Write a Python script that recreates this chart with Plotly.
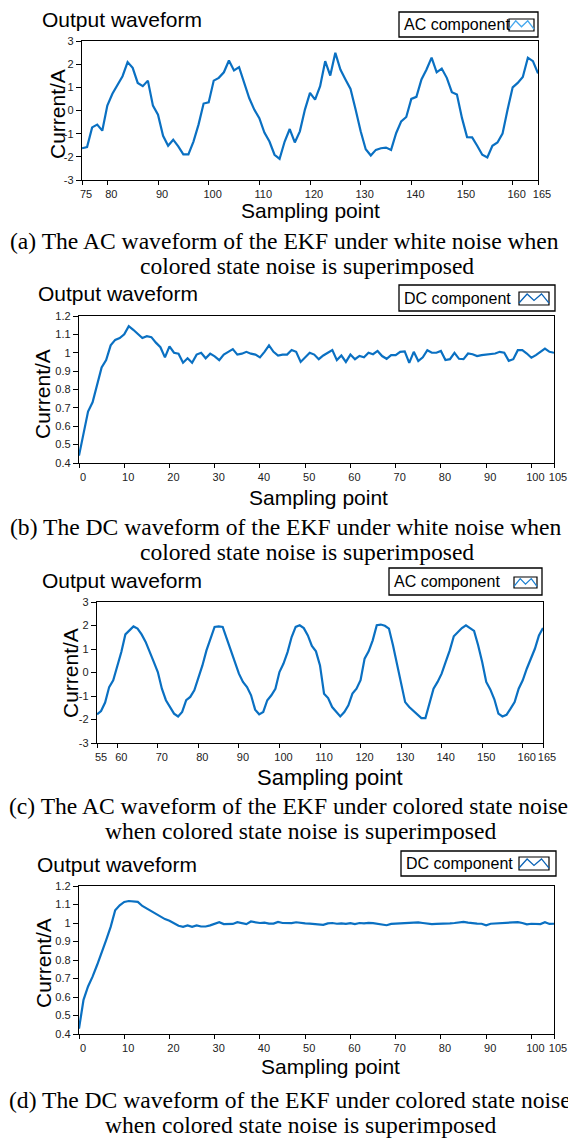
import plotly.graph_objects as go

# sampling points
x_ac_white = list(range(75, 166))
x_dc_white = list(range(0, 106))
x_ac_color = list(range(55, 166))
x_dc_color = list(range(0, 106))

# (a) AC component, white noise
ac_white = [
    -1.63, -1.58, -0.73, -0.61, -0.87, 0.21, 0.72, 1.08, 1.48, 2.09,
    1.84, 1.19, 1.05, 1.29, 0.21, -0.18, -1.09, -1.52, -1.26, -1.55,
    -1.89, -1.89, -1.34, -0.61, 0.30, 0.35, 1.29, 1.41, 1.65, 2.16,
    1.73, 1.87, 1.19, 0.54, 0.04, -0.33, -0.95, -1.34, -1.91, -2.09,
    -1.34, -0.80, -1.38, -0.90,
    0.04, 0.76, 0.47, 1.05, 2.13, 1.51, 2.49, 1.77, 1.34, 0.93,
    0.04, -0.90, -1.67, -1.94, -1.70, -1.63, -1.60, -1.70, -0.98, -0.47,
    -0.28, 0.50, 0.59, 1.34, 1.77, 2.28, 1.65, 1.81, 1.41, 0.79,
    0.69, -0.33, -1.15, -1.16, -1.52, -1.91, -2.03, -1.52, -1.38, -1.00,
    0.04, 1.00, 1.19, 1.45, 2.28, 2.13, 1.60,
]

# (b) DC component, white noise
dc_white = [
    0.44, 0.57, 0.68, 0.73, 0.82, 0.92, 0.96, 1.04, 1.07, 1.08,
    1.10, 1.145, 1.125, 1.10, 1.08, 1.09, 1.085, 1.055, 1.03, 0.975,
    1.035, 1.0, 0.995, 0.946, 0.97, 0.946, 0.99, 1.0, 0.97, 0.995,
    0.98, 0.96, 0.99, 1.005, 1.02, 0.99, 0.995, 1.005, 0.995, 0.99,
    0.975, 1.005, 1.04, 1.005, 0.985, 0.99, 0.99, 1.015, 1.005, 0.95,
    0.978, 1.0, 0.99, 0.965, 0.985, 1.0, 1.015, 0.96, 0.985, 0.95,
    0.99, 0.965, 0.983, 0.975, 1.0, 0.992, 1.01, 0.982, 0.967, 0.987,
    0.987, 1.005, 1.007, 0.945, 1.005, 0.955, 0.975, 1.014, 1.0, 1.0,
    1.01, 0.96, 0.965, 1.0, 0.967, 0.965, 0.996, 0.992, 0.982, 0.987,
    0.99, 0.992, 0.996, 1.005, 1.0, 0.956, 0.965, 1.014, 1.014, 0.996,
    0.973, 0.987, 1.005, 1.023, 1.005, 1.0,
]

# (c) AC component, colored state noise
ac_color = [
    -1.78, -1.64, -1.28, -0.62, -0.33, 0.23, 0.87, 1.62, 1.79, 1.96,
    1.87, 1.62, 1.30, 0.90, 0.45, 0.02, -0.69, -1.18, -1.47, -1.75,
    -1.87, -1.68, -1.18, -1.04, -0.76, -0.26, 0.30, 0.94, 1.41, 1.94,
    1.96, 1.94, 1.44, 0.94, 0.38, -0.05, -0.40, -0.62, -0.97, -1.58,
    -1.78, -1.68, -1.18, -0.97, -0.69, 0.02, 0.38, 0.87, 1.51, 1.94,
    2.01, 1.89, 1.58, 1.13, 0.90, 0.30, -0.90, -1.09, -1.47, -1.68,
    -1.87, -1.68, -1.40, -0.90, -0.69, -0.33, 0.59, 0.90, 1.37, 2.01,
    2.04, 1.99, 1.87, 1.16, 0.30, -0.55, -1.26, -1.47, -1.64, -1.80,
    -1.94, -1.94, -1.26, -0.69, -0.40, -0.05, 0.45, 0.94, 1.54, 1.72,
    1.89, 2.01, 1.87, 1.77, 1.16, 0.45, -0.40, -0.72, -1.14, -1.75,
    -1.87, -1.80, -1.54, -1.26, -0.69, -0.33, 0.16, 0.59, 1.01, 1.58,
    1.89,
]

# (d) DC component, colored state noise
dc_color = [
    0.429, 0.585, 0.657, 0.710, 0.773, 0.836, 0.908, 0.979, 1.069, 1.096,
    1.114, 1.119, 1.117, 1.114, 1.092, 1.078, 1.060, 1.046, 1.033, 1.021,
    1.012, 0.997, 0.985, 0.979, 0.987, 0.979, 0.987, 0.981, 0.981, 0.987,
    0.994, 1.004, 0.994, 0.994, 0.995, 1.004, 0.999, 0.994, 1.008, 1.004,
    1.0, 1.002, 0.997, 0.997, 1.006, 1.0, 0.999, 0.999, 1.004, 1.0,
    0.998, 0.997, 0.996, 0.994, 0.99, 0.998, 1.0, 0.996, 0.998, 0.995,
    0.999, 0.994, 1.0, 0.998, 1.001, 0.999, 0.995, 0.99, 0.988, 0.995,
    0.997, 0.998, 0.997, 1.0, 1.001, 1.003, 1.0, 0.995, 0.994, 0.995,
    0.995, 0.996, 0.998, 1.0, 1.003, 1.006, 1.002, 0.998, 0.997, 0.996,
    0.988, 0.996, 0.997, 1.0, 1.002, 1.003, 1.004, 1.005, 1.0, 0.993,
    0.996, 0.997, 0.994, 1.004, 0.995, 0.996,
]

ac_xticks_white = [75, 80, 90, 100, 110, 120, 130, 140, 150, 160, 165]
ac_xticks_color = [55, 60, 70, 80, 90, 100, 110, 120, 130, 140, 150, 160, 165]
dc_xticks = [0, 10, 20, 30, 40, 50, 60, 70, 80, 90, 100, 105]
ac_yticks = [-3, -2, -1, 0, 1, 2, 3]
ac_ytext = ["-3", "-2", "-1", "0", "1", "2", "3"]
dc_yticks = [0.4, 0.5, 0.6, 0.7, 0.8, 0.9, 1.0, 1.1, 1.2]
dc_ytext = ["0.4", "0.5", "0.6", "0.7", "0.8", "0.9", "1", "1.1", "1.2"]

legend_names = ["AC component", "DC component", "AC component", "DC component"]
captions = [
    ("(a) The AC waveform of the EKF under white noise when", "colored state noise is superimposed"),
    ("(b) The DC waveform of the EKF under white noise when", "colored state noise is superimposed"),
    ("(c) The AC waveform of the EKF under colored state noise", "when colored state noise is superimposed"),
    ("(d) The DC waveform of the EKF under colored state noise", "when colored state noise is superimposed"),
]

W, H = 576, 1140
OFF = 8  # the page body adds an 8px margin, positions below are page pixels
LINE = "#0a70c2"
SANS = "Liberation Sans, Arial, sans-serif"
SERIF = "Liberation Serif, Times New Roman, serif"
TICKFONT = dict(family="Liberation Sans, Arial", size=11, color="#222")


def fx(x):
    return (x - OFF) / W


def fy(y):
    return 1 - (y - OFF) / H


# page-pixel layout of every panel: plot box, title, legend, axis titles, caption lines
panels = [
    dict(box=(82, 41, 538, 180), title=(40, 19), leg=(399, 12, 538, 37), icon=(509, 19, 534, 31),
         icon_col="#45a8ee", ytit=(58, 114), xtit=(310, 210), cap=(8, 241, 307, 266), xsize=21),
    dict(box=(79, 316, 554, 463), title=(36, 293), leg=(399, 285, 555, 311), icon=(519, 292, 549, 305),
         icon_col="#0b63b6", ytit=(43, 394), xtit=(318, 497), cap=(8, 527, 307, 552), xsize=21),
    dict(box=(97, 602, 543, 743), title=(40, 580), leg=(389, 568, 542, 595), icon=(514, 577, 537, 588),
         icon_col="#1a7fd0", ytit=(70, 673), xtit=(330, 777), cap=(7, 806, 300, 831), xsize=22),
    dict(box=(79, 886, 554, 1034), title=(35, 864), leg=(401, 851, 556, 876), icon=(519, 857, 549, 870),
         icon_col="#0b63b6", ytit=(43, 963), xtit=(330, 1066), cap=(7, 1100, 300, 1125), xsize=21),
]

series = [
    (x_ac_white, ac_white, [75, 165], [-3, 3], ac_xticks_white, ac_yticks, ac_ytext),
    (x_dc_white, dc_white, [0, 105], [0.4, 1.2], dc_xticks, dc_yticks, dc_ytext),
    (x_ac_color, ac_color, [55, 165], [-3, 3], ac_xticks_color, ac_yticks, ac_ytext),
    (x_dc_color, dc_color, [0, 105], [0.4, 1.2], dc_xticks, dc_yticks, dc_ytext),
]

fig = go.Figure()
annotations = []
shapes = []
layout = {}


def note(text, x, y, size, family=SANS, xanchor="center", angle=0):
    annotations.append(dict(text=text, x=fx(x), y=fy(y), xref="paper", yref="paper",
                            xanchor=xanchor, yanchor="middle", textangle=angle, showarrow=False,
                            font=dict(family=family, size=size, color="black")))


for i, (p, s) in enumerate(zip(panels, series)):
    n = "" if i == 0 else str(i + 1)
    xs, ys, xr, yr, xt, yt, ytt = s
    fig.add_trace(go.Scatter(x=xs, y=ys, mode="lines", xaxis="x" + n, yaxis="y" + n,
                             line=dict(color=LINE, width=2.2), showlegend=False))
    x0, y0, x1, y1 = p["box"]
    layout["xaxis" + n] = dict(
        domain=[fx(x0), fx(x1)], anchor="y" + n, range=xr, tickvals=xt,
        ticktext=[str(v) for v in xt], ticks="outside", ticklen=4, tickcolor="black",
        showline=True, mirror=True, linecolor="black", linewidth=1.4, tickangle=0,
        showgrid=False, zeroline=False, tickfont=TICKFONT, automargin=False,
        ticklabelshift=4, ticklabelstandoff=0,
    )
    layout["yaxis" + n] = dict(
        domain=[fy(y1), fy(y0)], anchor="x" + n, range=yr, tickvals=yt, ticktext=ytt,
        ticks="outside", ticklen=5, tickcolor="black", tickangle=0,
        showline=True, mirror=True, linecolor="black", linewidth=1.4,
        showgrid=False, zeroline=False, tickfont=TICKFONT, automargin=False,
        ticklabelstandoff=0,
    )

    # panel title and axis titles
    note("Output waveform", p["title"][0], p["title"][1], 21, xanchor="left")
    note("Current/A", p["ytit"][0], p["ytit"][1], 21, angle=-90)
    note("Sampling point", p["xtit"][0], p["xtit"][1], p["xsize"])

    # legend box
    lx0, ly0, lx1, ly1 = p["leg"]
    shapes.append(dict(type="rect", xref="paper", yref="paper", x0=fx(lx0), x1=fx(lx1),
                       y0=fy(ly1), y1=fy(ly0), line=dict(color="black", width=1.3),
                       fillcolor="white"))
    note(legend_names[i], lx0 + 3, (ly0 + ly1) / 2, 16, xanchor="left")
    ix0, iy0, ix1, iy1 = p["icon"]
    shapes.append(dict(type="rect", xref="paper", yref="paper", x0=fx(ix0), x1=fx(ix1),
                       y0=fy(iy1), y1=fy(iy0), line=dict(color="black", width=1.2)))
    iw, ih = ix1 - ix0, iy1 - iy0
    pts = [(0.0, 0.85), (0.27, 0.15), (0.5, 0.65), (0.75, 0.15), (1.0, 0.85)]
    path = "M " + " L ".join(f"{fx(ix0 + a * iw):.5f},{fy(iy0 + b * ih):.5f}" for a, b in pts)
    shapes.append(dict(type="path", xref="paper", yref="paper", path=path,
                       line=dict(color=p["icon_col"], width=1.3)))

    # caption
    c0, cy0, c2x, cy1 = p["cap"]
    note(captions[i][0], c0, cy0, 23.6, family=SERIF, xanchor="left")
    note(captions[i][1], c2x, cy1, 23.6, family=SERIF)

fig.update_layout(
    width=W, height=H, margin=dict(l=0, r=0, t=0, b=0, autoexpand=False),
    paper_bgcolor="white", plot_bgcolor="white", showlegend=False,
    annotations=annotations, shapes=shapes, **layout,
)

fig.write_html("out.html")
